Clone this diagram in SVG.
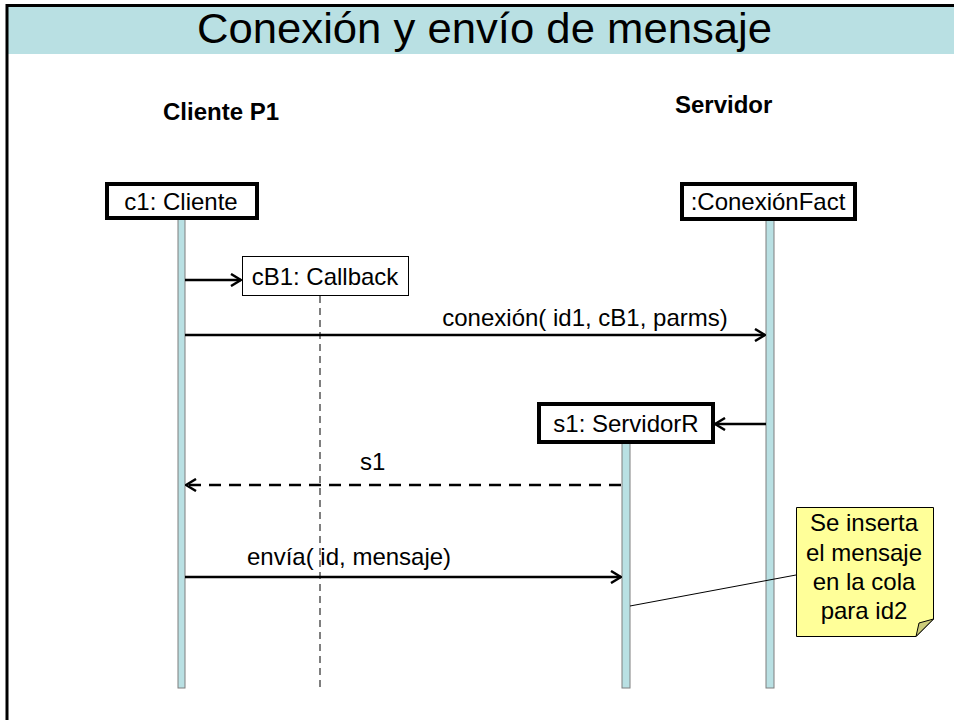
<svg xmlns="http://www.w3.org/2000/svg" width="954" height="720" viewBox="0 0 954 720">
<style>
text{font-family:"Liberation Sans",Arial,sans-serif;fill:#000}
.t{font-size:24px}
.b{font-size:24px;font-weight:bold}
.obj{fill:#fff;stroke:#000;stroke-width:4}
.bar{fill:#b9e0e3;stroke:#7f7f7f;stroke-width:1}
.msg{stroke:#000;stroke-width:2.5;fill:none}
</style>
<defs>
<marker id="open" viewBox="0 0 12 14" refX="11" refY="7" markerWidth="12" markerHeight="14" markerUnits="userSpaceOnUse" orient="auto">
<path d="M1,1 L11,7 L1,13" fill="none" stroke="#000" stroke-width="2.5"/>
</marker>
</defs>
<rect x="7" y="5" width="950" height="49" fill="#b9e0e3"/>
<path d="M7,720 V5.5 H954" fill="none" stroke="#000" stroke-width="3"/>
<text x="197" y="43" font-size="43" textLength="575" lengthAdjust="spacingAndGlyphs">Conexión y envío de mensaje</text>
<text class="b" x="163" y="120">Cliente P1</text>
<text class="b" x="675" y="113">Servidor</text>

<g id="c1">
<rect class="bar" x="178" y="218" width="7" height="470"/>
<rect class="obj" x="107" y="184" width="150" height="34"/>
<text class="t" x="181" y="210" text-anchor="middle">c1: Cliente</text>
</g>
<g id="cB1">
<line x1="320" y1="296" x2="320" y2="688" stroke="#7f7f7f" stroke-width="2" stroke-dasharray="7,5"/>
<rect x="242.5" y="256.5" width="166" height="39" fill="#fff" stroke="#000" stroke-width="1"/>
<text class="t" x="325" y="285" text-anchor="middle">cB1: Callback</text>
</g>
<g id="conexionFact">
<rect class="bar" x="766" y="219" width="8" height="469"/>
<rect class="obj" x="682" y="184" width="173" height="35"/>
<text class="t" x="768" y="210" text-anchor="middle">:ConexiónFact</text>
</g>
<g id="s1">
<rect class="bar" x="622" y="442" width="8" height="246"/>
<rect class="obj" x="539" y="404" width="174" height="38"/>
<text class="t" x="626" y="432" text-anchor="middle">s1: ServidorR</text>
</g>
<g id="note">
<path d="M796.5,507.5 H933.5 V619 L916,636.5 H796.5 Z" fill="#ffff99" stroke="#000" stroke-width="1"/>
<path d="M933.5,619 L916,636.5 L919,623 Z" fill="#cccc7a" stroke="#000" stroke-width="1"/>
<text class="t" x="864" y="531" text-anchor="middle">Se inserta</text>
<text class="t" x="864" y="561" text-anchor="middle">el mensaje</text>
<text class="t" x="864" y="590" text-anchor="middle">en la cola</text>
<text class="t" x="864" y="619" text-anchor="middle">para id2</text>
</g>
<g id="connectors">
<line class="msg" x1="185" y1="280" x2="241" y2="280" marker-end="url(#open)"/>
<line class="msg" x1="185" y1="335" x2="765" y2="335" marker-end="url(#open)"/>
<text class="t" x="585" y="326" text-anchor="middle">conexión( id1, cB1, parms)</text>
<line class="msg" x1="766" y1="424" x2="715" y2="424" marker-end="url(#open)"/>
<line class="msg" x1="621" y1="485" x2="186" y2="485" stroke-dasharray="12,8" marker-end="url(#open)"/>
<text class="t" x="360" y="470">s1</text>
<line class="msg" x1="185" y1="577" x2="621" y2="577" marker-end="url(#open)"/>
<text class="t" x="247" y="565">envía( id, mensaje)</text>
<line x1="630" y1="606" x2="796" y2="575" stroke="#000" stroke-width="1"/>
</g>
</svg>
